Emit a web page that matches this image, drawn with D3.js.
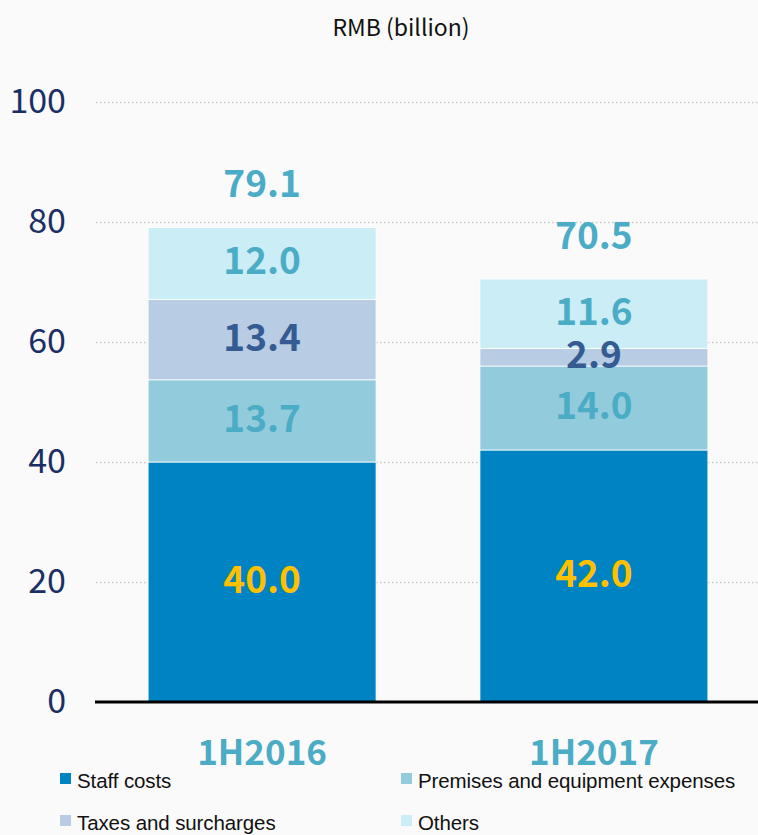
<!DOCTYPE html>
<html>
<head>
<meta charset="utf-8">
<script src="https://cdn.jsdelivr.net/npm/d3@7"></script>
<style>
  html, body { margin: 0; padding: 0; background: #fafafa; }
  svg { display: block; }
</style>
</head>
<body>
<svg id="chart" width="758" height="835"></svg>
<script>
// Operating expenses by half-year, RMB billion
const periods = ["1H2016", "1H2017"];
const seriesNames = ["Staff costs", "Premises and equipment expenses", "Taxes and surcharges", "Others"];
const staffCosts = [40.0, 42.0];
const premisesExpenses = [13.7, 14.0];
const taxesSurcharges = [13.4, 2.9];
const others = [12.0, 11.6];
const totals = [79.1, 70.5];
const yTicks = [0, 20, 40, 60, 80, 100];

const fills = ["#0083c3", "#92cbdc", "#b8cce4", "#cbedf6"];
const labelColors = ["#ffc000", "#4bacc6", "#345c92", "#4bacc6"];
const totalColor = "#4bacc6";

const svg = d3.select("#chart");
const W = 758;

const y = d3.scaleLinear().domain([0, 100]).range([702, 102]);
const x = d3.scaleBand().domain(periods).range([96, 760])
  .paddingInner(0.313).paddingOuter(0.157);

// gridlines
svg.append("g")
  .attr("transform", "translate(96,0)")
  .call(d3.axisLeft(y).tickValues(yTicks.filter(d => d > 0)).tickSize(-(W - 96)).tickFormat(""))
  .call(g => g.select(".domain").remove())
  .call(g => g.selectAll("line")
    .attr("stroke", "#c8c8c8").attr("stroke-width", 1.5).attr("stroke-dasharray", "1.5,2.5"));

// y tick labels
svg.append("g")
  .attr("transform", "translate(96,0)")
  .call(d3.axisLeft(y).tickValues(yTicks).tickSize(0).tickPadding(30))
  .call(g => g.select(".domain").remove())
  .call(g => g.selectAll("text")
    .attr("fill", "#1b2f66")
    .attr("font-family", "'Noto Sans CJK SC', 'Noto Sans', sans-serif")
    .attr("font-size", 34));

// stacked data
const rows = periods.map((p, i) => ({
  period: p,
  "Staff costs": staffCosts[i],
  "Premises and equipment expenses": premisesExpenses[i],
  "Taxes and surcharges": taxesSurcharges[i],
  "Others": others[i]
}));
const stack = d3.stack().keys(seriesNames)(rows);

const layers = svg.append("g").selectAll("g")
  .data(stack).join("g")
  .attr("fill", (d, i) => fills[i]);

layers.selectAll("rect")
  .data(d => d.map(v => ({ v, key: d.key })))
  .join("rect")
  .attr("x", d => x(d.v.data.period))
  .attr("width", x.bandwidth())
  .attr("y", d => y(d.v[1]))
  .attr("height", d => y(d.v[0]) - y(d.v[1]))
  .attr("stroke", "#ffffff")
  .attr("stroke-width", 0.8);

// segment value labels
const labelFont = "'Noto Sans CJK SC', 'Noto Sans', sans-serif";
stack.forEach((layer, li) => {
  svg.append("g").selectAll("text")
    .data(layer).join("text")
    .attr("x", d => x(d.data.period) + x.bandwidth() / 2)
    .attr("y", d => (y(d[0]) + y(d[1])) / 2 - 2)
    .attr("dy", "0.35em")
    .attr("text-anchor", "middle")
    .attr("font-family", labelFont)
    .attr("font-weight", "bold")
    .attr("font-size", 37)
    .attr("fill", labelColors[li])
    .text(d => (d[1] - d[0]).toFixed(1));
});

// totals above bars
svg.append("g").selectAll("text")
  .data(periods).join("text")
  .attr("x", p => x(p) + x.bandwidth() / 2)
  .attr("y", (p, i) => y(totals[i]) - 30)
  .attr("text-anchor", "middle")
  .attr("font-family", labelFont)
  .attr("font-weight", "bold")
  .attr("font-size", 37)
  .attr("fill", totalColor)
  .text((p, i) => totals[i].toFixed(1));

// baseline
svg.append("line")
  .attr("x1", 95).attr("x2", W)
  .attr("y1", y(0)).attr("y2", y(0))
  .attr("stroke", "#000").attr("stroke-width", 3);

// category labels
svg.append("g").selectAll("text")
  .data(periods).join("text")
  .attr("x", p => x(p) + x.bandwidth() / 2)
  .attr("y", 765)
  .attr("text-anchor", "middle")
  .attr("font-family", labelFont)
  .attr("font-weight", "bold")
  .attr("font-size", 35)
  .attr("fill", totalColor)
  .text(p => p);

// unit title
svg.append("text")
  .attr("x", 401).attr("y", 36)
  .attr("text-anchor", "middle")
  .attr("font-family", "'Noto Sans CJK SC', 'Noto Sans', sans-serif")
  .attr("font-size", 23)
  .attr("fill", "#111")
  .text("RMB (billion)");

// legend
const legendPos = [[60, 788], [401, 788], [60, 830], [401, 830]];
const legend = svg.append("g").selectAll("g")
  .data(seriesNames).join("g")
  .attr("transform", (d, i) => `translate(${legendPos[i][0]},${legendPos[i][1]})`);
legend.append("rect")
  .attr("x", 0).attr("y", -15).attr("width", 11).attr("height", 11)
  .attr("fill", (d, i) => fills[i]);
legend.append("text")
  .attr("x", 17).attr("y", 0)
  .attr("font-family", "'Liberation Sans', Arial, sans-serif")
  .attr("font-size", 20.5)
  .attr("letter-spacing", -0.1)
  .attr("fill", "#111")
  .text(d => d);
</script>
</body>
</html>
